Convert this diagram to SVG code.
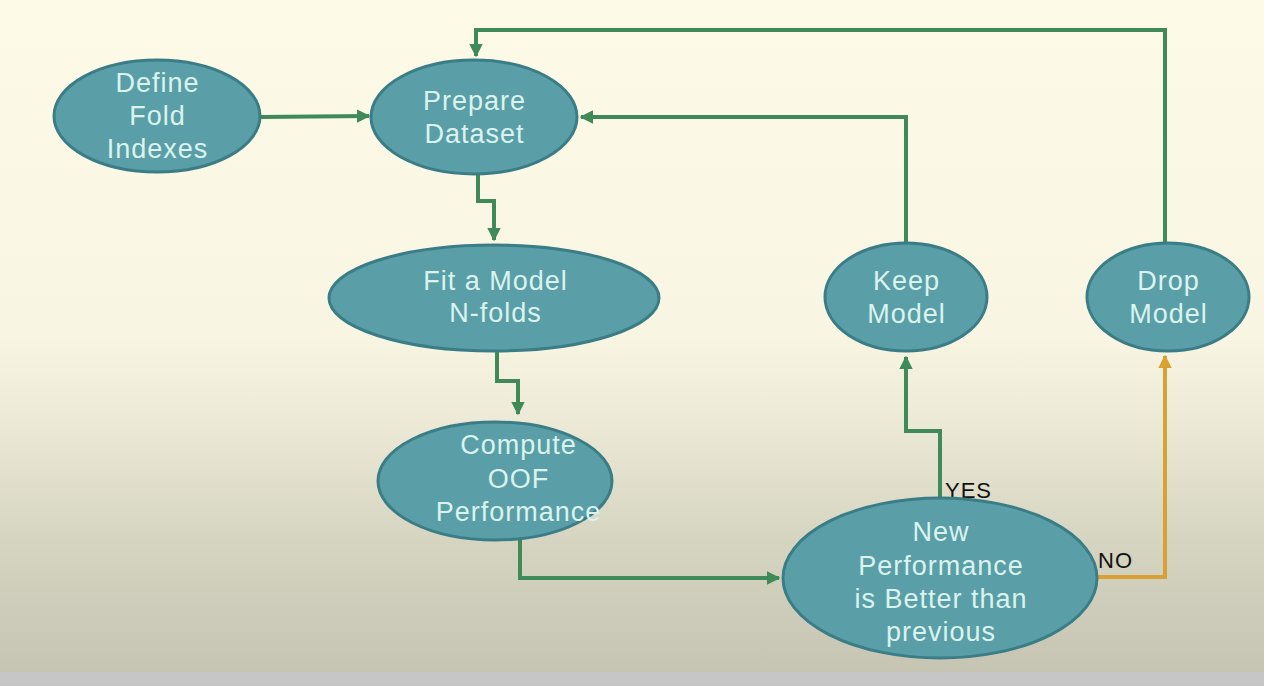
<svg xmlns="http://www.w3.org/2000/svg" width="1264" height="686" viewBox="0 0 1264 686">
<defs>
<linearGradient id="bg" x1="0" y1="0" x2="0" y2="1">
<stop offset="0" stop-color="#fdfbe7"/>
<stop offset="0.5" stop-color="#f8f6e2"/>
<stop offset="0.62" stop-color="#edebd8"/>
<stop offset="0.8" stop-color="#d6d5c2"/>
<stop offset="1" stop-color="#c6c5b3"/>
</linearGradient>
<marker id="ag" viewBox="0 0 10 10" refX="9" refY="5" markerWidth="3.4" markerHeight="3.4" orient="auto" markerUnits="strokeWidth">
<path d="M0,0 L10,5 L0,10 z" fill="#3f8a58"/>
</marker>
<marker id="ao" viewBox="0 0 10 10" refX="9" refY="5" markerWidth="3.4" markerHeight="3.4" orient="auto" markerUnits="strokeWidth">
<path d="M0,0 L10,5 L0,10 z" fill="#d9a034"/>
</marker>
</defs>
<style>
.n ellipse{fill:#5a9fa7;stroke:#3b7d86;stroke-width:3}
.n text{font-family:"Liberation Sans",Arial,sans-serif;font-size:27px;letter-spacing:1px;fill:#daf3ef;text-anchor:middle}
.c path{fill:none;stroke:#3f8a58;stroke-width:4;marker-end:url(#ag)}
.c path.o{stroke:#d9a034;marker-end:url(#ao)}
.l{font-family:"Liberation Sans",Arial,sans-serif;font-size:22px;letter-spacing:1px;fill:#111}
</style>
<rect x="0" y="0" width="1264" height="672" fill="url(#bg)"/>
<rect x="0" y="672" width="1264" height="14" fill="#c6c6c6"/>
<g id="connectors" class="c">
<path d="M260,117 L369,116"/>
<path d="M478,175 L478,201 L494,201 L494,240"/>
<path d="M497,352 L497,381 L518,381 L518,414"/>
<path d="M520,540 L520,578 L779,578"/>
<path d="M940,498 L940,431 L906,431 L906,357"/>
<path d="M906,245 L906,117 L581,117"/>
<path d="M1165,245 L1165,30 L476,30 L476,56"/>
<path class="o" d="M1097,577 L1165,577 L1165,356"/>
</g>
<text class="l" x="945" y="498">YES</text>
<text class="l" x="1098" y="568">NO</text>
<g id="define" class="n">
<ellipse cx="157" cy="116" rx="103" ry="56"/>
<text x="157.5" y="92">Define</text>
<text x="157.5" y="125">Fold</text>
<text x="157.5" y="158">Indexes</text>
</g>
<g id="prepare" class="n">
<ellipse cx="474" cy="117" rx="103" ry="57"/>
<text x="474.5" y="110">Prepare</text>
<text x="474.5" y="143">Dataset</text>
</g>
<g id="fit" class="n">
<ellipse cx="494" cy="298" rx="165" ry="53"/>
<text x="495.5" y="290">Fit a Model</text>
<text x="495.5" y="322">N-folds</text>
</g>
<g id="compute" class="n">
<ellipse cx="495" cy="481" rx="117" ry="59"/>
<text x="518.5" y="454">Compute</text>
<text x="518.5" y="488">OOF</text>
<text x="518.5" y="521">Performance</text>
</g>
<g id="keep" class="n">
<ellipse cx="906" cy="297" rx="81" ry="54"/>
<text x="906.5" y="290">Keep</text>
<text x="906.5" y="323">Model</text>
</g>
<g id="drop" class="n">
<ellipse cx="1168" cy="297" rx="81" ry="54"/>
<text x="1168.5" y="290">Drop</text>
<text x="1168.5" y="323">Model</text>
</g>
<g id="newperf" class="n">
<ellipse cx="940" cy="578" rx="157" ry="80"/>
<text x="941" y="541">New</text>
<text x="941" y="575">Performance</text>
<text x="941" y="608">is Better than</text>
<text x="941" y="641">previous</text>
</g>
</svg>
